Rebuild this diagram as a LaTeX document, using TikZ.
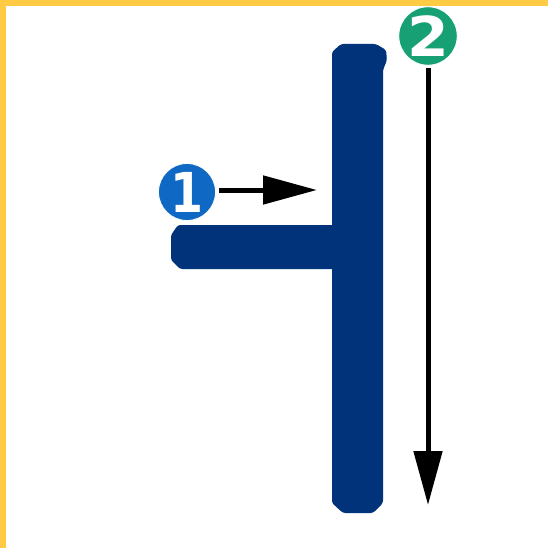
\documentclass[tikz,border=0pt]{standalone}
\usepackage{fontspec}
\setmainfont{DejaVu Sans}
\usetikzlibrary{arrows.meta}
\definecolor{framey}{HTML}{FFCB45}
\definecolor{barblue}{HTML}{00337A}
\definecolor{badgeblue}{HTML}{0F69C4}
\definecolor{badgegreen}{HTML}{17A074}
\tikzset{
  badge/.style={circle,draw=white,line width=0.8pt,minimum size=57pt,inner sep=0pt,text=white,font=\fontsize{50}{50}\selectfont\bfseries},
  pointer/.style={line width=5pt,black,-{Triangle[length=54pt,width=28pt]}}
}
\begin{document}
\begin{tikzpicture}[x=1pt,y=-1pt]
\useasboundingbox (0,0) rectangle (548,548);
\fill[white] (0,0) rectangle (548,548);
\fill[framey] (0,0) rectangle (548,6);
\fill[framey] (0,0) rectangle (6,548);
\fill[barblue,rounded corners=2.5pt] (341,44) -- (376,44) -- (386,50) -- (387,60) -- (383,70) -- (383,503) -- (373,513) -- (343,513) -- (332,503) [sharp corners] -- (332,269) [rounded corners=2.5pt] -- (180,269) -- (171,260) -- (171,235) -- (178,225) [sharp corners] -- (332,225) [rounded corners=2.5pt] -- (332,52) -- cycle;
\node[badge,fill=badgeblue] (one) at (187,192) {\raisebox{-1pt}{\scalebox{0.95}[1.1]{1}}};
\node[badge,fill=badgegreen] (two) at (428,36) {\scalebox{1.2}[1.1]{2}};
\coordinate (onetip) at (317,190);
\coordinate (twotip) at (428,505);
\draw[pointer] (one.east |- onetip) ++(3,0) -- (onetip);
\draw[pointer] (two.south) ++(0,2) -- (twotip);
\end{tikzpicture}
\end{document}
